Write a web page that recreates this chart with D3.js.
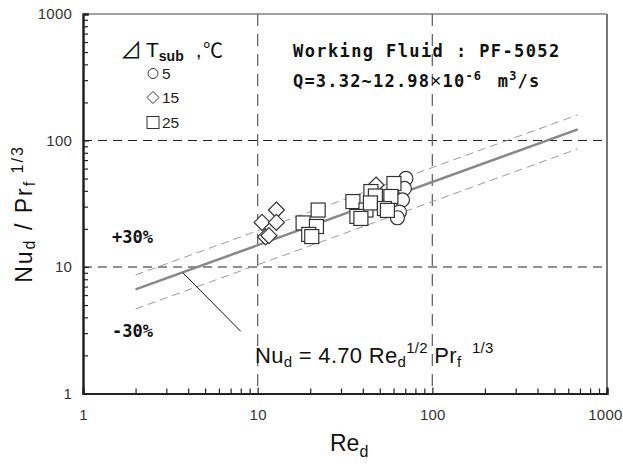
<!DOCTYPE html>
<html>
<head>
<meta charset="utf-8">
<script src="https://cdn.jsdelivr.net/npm/d3@7"></script>
<style>
  body { margin: 0; background: #fff; }
  svg { display: block; }
</style>
</head>
<body>
<svg id="chart" width="623" height="467"></svg>
<script>
// data
var circleRe  = [70.6, 69.2, 67.4, 64.8, 63.1];
var circleNu  = [50.1, 41.8, 33.9, 27.2, 24.5];
var diamondRe = [12.8, 10.6, 12.8, 11.1, 11.6, 47.6];
var diamondNu = [28.2, 22.5, 22.5, 17.3, 17.7, 44.5];
var squareRe  = [22.2, 18.2, 21.7, 19.6, 20.4, 35.1, 44.5, 47.2, 60.3, 57.9, 41.7, 44.2, 53.2, 55.3, 37.0, 39.0];
var squareNu  = [28.2, 22.3, 20.9, 18.1, 17.4, 32.9, 39.5, 36.4, 45.7, 36.1, 28.2, 32.1, 29.0, 28.0, 25.1, 24.2];
var fitRe     = [2, 680];
var fitNu     = [6.65, 122.6];
var upperNu   = [8.65, 159.4];
var lowerNu   = [4.66, 85.8];
var majorTicks = [1, 10, 100, 1000];
var gridTicks  = [10, 100];

var svg = d3.select("#chart");
var x = d3.scaleLog().domain([1, 1000]).range([83, 607]);
var y = d3.scaleLog().domain([1, 1000]).range([393.5, 14]);

var minorTicks = [];
[1, 10, 100].forEach(function(d) {
  for (var k = 2; k <= 9; k++) minorTicks.push(d * k);
});

// frame: top and right
svg.append("line").attr("x1", 83).attr("x2", 607).attr("y1", 14).attr("y2", 14)
  .attr("stroke", "#444").attr("stroke-width", 1);
svg.append("line").attr("x1", 607).attr("x2", 607).attr("y1", 14).attr("y2", 393.5)
  .attr("stroke", "#777").attr("stroke-width", 2);

// grid
svg.selectAll(".hgrid").data(gridTicks).enter().append("line")
  .attr("x1", 83).attr("x2", 607)
  .attr("y1", function(d) { return y(d); }).attr("y2", function(d) { return y(d); })
  .attr("stroke", "#222").attr("stroke-width", 1.2).attr("stroke-dasharray", "9,6");
svg.selectAll(".vgrid").data(gridTicks).enter().append("line")
  .attr("y1", 14).attr("y2", 393.5)
  .attr("x1", function(d) { return x(d); }).attr("x2", function(d) { return x(d); })
  .attr("stroke", "#666").attr("stroke-width", 1.3).attr("stroke-dasharray", "12,8");

// axes
var labelFont = function(sel) {
  sel.selectAll("text").attr("font-family", "Liberation Sans, Arial, sans-serif")
    .attr("font-size", 15).attr("fill", "#333").attr("letter-spacing", 0.2);
};
var xAxis = svg.append("g").attr("transform", "translate(0,393.5)")
  .call(d3.axisBottom(x).tickValues(majorTicks).tickSize(-6).tickPadding(16)
        .tickFormat(d3.format("d")));
var xMinor = svg.append("g").attr("transform", "translate(0,393.5)")
  .call(d3.axisBottom(x).tickValues(minorTicks).tickSize(-5).tickFormat(""));
var yAxis = svg.append("g").attr("transform", "translate(83,0)")
  .call(d3.axisLeft(y).tickValues(majorTicks).tickSize(-6).tickPadding(11)
        .tickFormat(d3.format("d")));
var yMinor = svg.append("g").attr("transform", "translate(83,0)")
  .call(d3.axisLeft(y).tickValues(minorTicks).tickSize(-5).tickFormat(""));
[xAxis, xMinor, yAxis, yMinor].forEach(function(a) {
  a.select(".domain").attr("stroke", "#222").attr("stroke-width", 2);
  a.selectAll(".tick line").attr("stroke", "#222").attr("stroke-width", 1.2);
  labelFont(a);
});
// last x label sits against the right edge
xAxis.selectAll(".tick text").filter(function(d) { return d === 1000; })
  .attr("text-anchor", "end").attr("dx", 15);

// correlation and +-30% lines
var line = d3.line().x(function(d) { return x(d[0]); }).y(function(d) { return y(d[1]); });
svg.append("path").datum(d3.zip(fitRe, upperNu)).attr("d", line)
  .attr("fill", "none").attr("stroke", "#999").attr("stroke-width", 1).attr("stroke-dasharray", "8,5");
svg.append("path").datum(d3.zip(fitRe, lowerNu)).attr("d", line)
  .attr("fill", "none").attr("stroke", "#999").attr("stroke-width", 1).attr("stroke-dasharray", "8,5");
svg.append("path").datum(d3.zip(fitRe, fitNu)).attr("d", line)
  .attr("fill", "none").attr("stroke", "#888").attr("stroke-width", 2.5);

// leader to equation
svg.append("line").attr("x1", x(3.73)).attr("y1", y(9.0)).attr("x2", x(8.0)).attr("y2", y(3.1))
  .attr("stroke", "#111").attr("stroke-width", 1);

// markers
var mk = { fill: "#fff", stroke: "#333", sw: 1.2 };
svg.selectAll(".circ").data(d3.zip(circleRe, circleNu)).enter().append("circle")
  .attr("cx", function(d) { return x(d[0]); }).attr("cy", function(d) { return y(d[1]); })
  .attr("r", 7).attr("fill", mk.fill).attr("stroke", mk.stroke).attr("stroke-width", mk.sw);
svg.selectAll(".diam").data(d3.zip(diamondRe, diamondNu)).enter().append("path")
  .attr("d", "M0,-8L8,0L0,8L-8,0Z")
  .attr("transform", function(d) { return "translate(" + x(d[0]) + "," + y(d[1]) + ")"; })
  .attr("fill", mk.fill).attr("stroke", mk.stroke).attr("stroke-width", mk.sw);
svg.selectAll(".sq").data(d3.zip(squareRe, squareNu)).enter().append("rect")
  .attr("x", function(d) { return x(d[0]) - 7; }).attr("y", function(d) { return y(d[1]) - 7; })
  .attr("width", 14).attr("height", 14)
  .attr("fill", mk.fill).attr("stroke", mk.stroke).attr("stroke-width", mk.sw);

// legend
var sans = "Liberation Sans, Arial, sans-serif";
var mono = "DejaVu Sans Mono, monospace";
var cjk = "Noto Sans CJK KR, sans-serif";
svg.append("text").attr("x", 120).attr("y", 58).attr("font-family", cjk)
  .attr("font-size", 22).attr("fill", "#111").text("⊿");
var lh = svg.append("text").attr("x", 146).attr("y", 57).attr("font-family", sans)
  .attr("font-size", 21).attr("fill", "#111");
lh.append("tspan").text("T");
lh.append("tspan").attr("font-size", 14).attr("font-weight", "bold").attr("dy", 4).text("sub");
lh.append("tspan").attr("dy", -4).attr("dx", 12).text(",");
svg.append("text").attr("x", 203).attr("y", 58).attr("font-family", cjk)
  .attr("font-size", 20).attr("fill", "#111").text("℃");

svg.append("circle").attr("cx", 153).attr("cy", 73.5).attr("r", 5)
  .attr("fill", "#fff").attr("stroke", "#333").attr("stroke-width", 1);
svg.append("path").attr("d", "M0,-6L6,0L0,6L-6,0Z").attr("transform", "translate(153,97.5)")
  .attr("fill", "#fff").attr("stroke", "#333").attr("stroke-width", 1);
svg.append("rect").attr("x", 147).attr("y", 116.5).attr("width", 12).attr("height", 12)
  .attr("fill", "#fff").attr("stroke", "#333").attr("stroke-width", 1);
[["5", 78.5], ["15", 103], ["25", 128]].forEach(function(d) {
  svg.append("text").attr("x", 162).attr("y", d[1]).attr("font-family", sans)
    .attr("font-size", 15.5).attr("fill", "#222").text(d[0]);
});

// conditions
svg.append("text").attr("x", 293).attr("y", 57).attr("font-family", mono)
  .attr("font-size", 17).attr("font-weight", "bold").attr("letter-spacing", 1.4).attr("fill", "#111")
  .text("Working Fluid : PF-5052");
var q = svg.append("text").attr("x", 293).attr("y", 87).attr("font-family", mono)
  .attr("font-size", 17).attr("font-weight", "bold").attr("letter-spacing", 1.2).attr("fill", "#111");
q.append("tspan").text("Q=3.32~12.98");
q.append("tspan").attr("font-family", sans).attr("font-weight", "normal").attr("font-size", 19).text("×");
q.append("tspan").text("10");
q.append("tspan").attr("font-size", 12).attr("dy", -7).text("-6");
q.append("tspan").attr("dy", 7).attr("dx", 4).text(" m");
q.append("tspan").attr("font-size", 12).attr("dy", -7).text("3");
q.append("tspan").attr("dy", 7).text("/s");

// +30% / -30%
svg.append("text").attr("x", 112).attr("y", 243).attr("font-family", mono)
  .attr("font-size", 17).attr("font-weight", "bold").attr("fill", "#111").text("+30%");
svg.append("text").attr("x", 112).attr("y", 337).attr("font-family", mono)
  .attr("font-size", 17).attr("font-weight", "bold").attr("fill", "#111").text("-30%");

// equation
var eq = svg.append("text").attr("x", 255).attr("y", 363).attr("font-family", sans)
  .attr("font-size", 22).attr("letter-spacing", 0.3).attr("fill", "#111");
eq.append("tspan").text("Nu");
eq.append("tspan").attr("font-size", 15).attr("dy", 4).text("d");
eq.append("tspan").attr("dy", -4).text(" = 4.70 Re");
eq.append("tspan").attr("font-size", 15).attr("dy", 4).text("d");
eq.append("tspan").attr("font-size", 15).attr("dy", -14).text("1/2");
eq.append("tspan").attr("dy", 10).text("  Pr");
eq.append("tspan").attr("font-size", 15).attr("dy", 4).text("f");
eq.append("tspan").attr("font-size", 15).attr("dy", -14).attr("dx", 6).text("  1/3");

// axis titles
var yl = svg.append("text").attr("transform", "translate(32,214) rotate(-90)")
  .attr("text-anchor", "middle").attr("font-family", sans).attr("font-size", 23)
  .attr("letter-spacing", 2).attr("fill", "#111");
yl.append("tspan").text("Nu");
yl.append("tspan").attr("font-size", 16).attr("dy", 3).text("d");
yl.append("tspan").attr("dy", -3).text(" / Pr");
yl.append("tspan").attr("font-size", 16).attr("dy", 3).text("f");
yl.append("tspan").attr("font-size", 16).attr("dy", -12).text(" 1/3");

var xl = svg.append("text").attr("x", 330).attr("y", 451).attr("font-family", sans)
  .attr("font-size", 23).attr("fill", "#111");
xl.append("tspan").text("Re");
xl.append("tspan").attr("font-size", 16).attr("dy", 6).text("d");
</script>
</body>
</html>
